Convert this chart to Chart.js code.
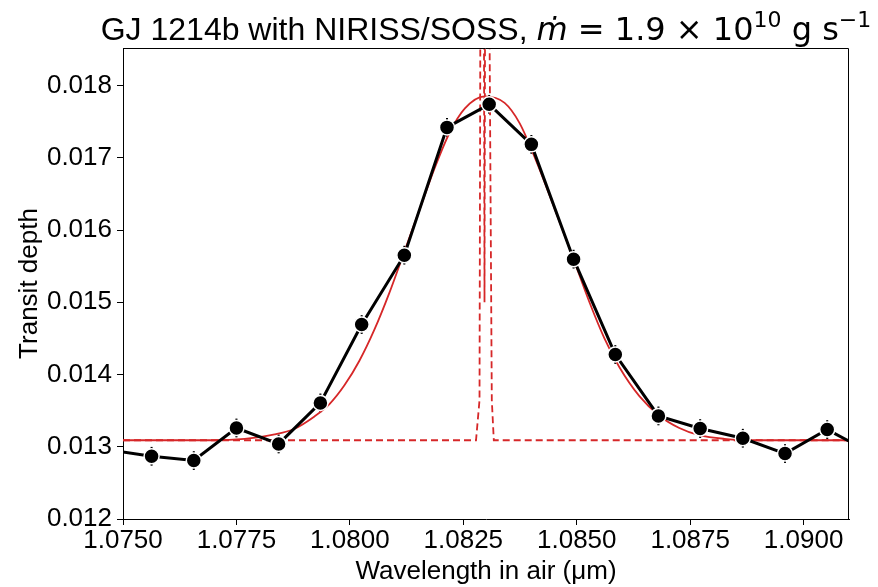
<!DOCTYPE html>
<html>
<head>
<meta charset="utf-8">
<script src="https://cdn.jsdelivr.net/npm/chart.js@4.4.0/dist/chart.umd.min.js"></script>
<style>
  html, body { margin: 0; padding: 0; background: #fff; }
</style>
</head>
<body>
<canvas id="transit-chart" width="878" height="587"></canvas>
<script>
// observed NIRISS/SOSS points (first and last sit just outside the axes)
const obsWave = [1.07469, 1.07563, 1.07656, 1.07750, 1.07843, 1.07935, 1.08026, 1.08120, 1.08214, 1.08307,
  1.08400, 1.08493, 1.08585, 1.08680, 1.08772, 1.08866, 1.08959, 1.09052, 1.09145]
const obsDepth = [0.012956, 0.012868, 0.012809, 0.013260, 0.013039, 0.013607, 0.014692, 0.015652, 0.017421, 0.017740,
  0.017186, 0.015597, 0.014277, 0.013427, 0.013252, 0.013118, 0.012906, 0.013238, 0.012928]
const obsErr = [0.00013, 0.00013, 0.00013, 0.00013, 0.00013, 0.00013, 0.00013, 0.00013, 0.00013, 0.00013,
  0.00013, 0.00013, 0.00013, 0.00013, 0.00013, 0.00013, 0.00013, 0.00013, 0.00013]

// binned model (solid red)
const binWave = [1.0750, 1.07700, 1.07768, 1.07834, 1.07878, 1.07922, 1.07955, 1.07988, 1.08021, 1.08054,
  1.08087, 1.08120, 1.08154, 1.08187, 1.08220, 1.08253, 1.08297, 1.08341, 1.08374, 1.08411,
  1.08451, 1.08491, 1.08528, 1.08561, 1.08594, 1.08638, 1.08682, 1.08726, 1.08770, 1.08825,
  1.08902, 1.0910]
const binDepth = [0.01309, 0.01309, 0.01311, 0.01317, 0.01325, 0.01342, 0.01359, 0.01385, 0.01419, 0.01462,
  0.01513, 0.01570, 0.01629, 0.01686, 0.01735, 0.01768, 0.01785, 0.01776, 0.01748, 0.01695,
  0.01630, 0.01563, 0.01500, 0.01450, 0.01410, 0.01370, 0.01343, 0.01326, 0.01316, 0.01311,
  0.01309, 0.01309]

// high resolution model (dashed red), He triplet shoots off the top
const hiresWave = [1.0750, 1.082780, 1.082857, 1.082879, 1.082952, 1.082967, 1.082982, 1.083066, 1.083128, 1.083172, 1.0910]
const hiresDepth = [0.01309, 0.01309, 0.013644, 0.0200, 0.0200, 0.0150, 0.0200, 0.0200, 0.013644, 0.01309, 0.01309]

const xTicks = [1.0750, 1.0775, 1.0800, 1.0825, 1.0850, 1.0875, 1.0900]
const yTicks = [0.012, 0.013, 0.014, 0.015, 0.016, 0.017, 0.018]

const toPoints = (xs, ys) => xs.map((v, i) => ({ x: v, y: ys[i] }))

const errorBars = {
  id: 'errorBars',
  beforeDatasetsDraw(chart) {
    const { ctx, chartArea, scales: { x, y } } = chart
    ctx.save()
    ctx.beginPath()
    ctx.rect(chartArea.left, chartArea.top, chartArea.width, chartArea.height)
    ctx.clip()
    ctx.strokeStyle = '#000'
    ctx.lineWidth = 2
    obsWave.forEach((w, i) => {
      const px = x.getPixelForValue(w)
      ctx.beginPath()
      ctx.moveTo(px, y.getPixelForValue(obsDepth[i] - obsErr[i]))
      ctx.lineTo(px, y.getPixelForValue(obsDepth[i] + obsErr[i]))
      ctx.stroke()
    })
    ctx.restore()
  }
}

const frame = {
  id: 'frame',
  afterDraw(chart) {
    const { ctx, chartArea: a } = chart
    ctx.save()
    ctx.strokeStyle = '#000'
    ctx.lineWidth = 1
    ctx.beginPath()
    ctx.moveTo(a.left, a.top + 0.5)
    ctx.lineTo(a.right - 0.5, a.top + 0.5)
    ctx.lineTo(a.right - 0.5, a.bottom)
    ctx.stroke()
    ctx.restore()
  }
}

// title with math bits (dot m, superscripts)
const titleParts = [
  { text: 'GJ 1214b with NIRISS/SOSS, ', font: '32px "Liberation Sans"', dy: 0 },
  { text: 'ṁ', font: 'italic 32px "DejaVu Sans"', dy: 0 },
  { text: ' = 1.9 × 10', font: '32px "DejaVu Sans"', dy: 0 },
  { text: '10', font: '22px "DejaVu Sans"', dy: -13 },
  { text: ' g s', font: '32px "DejaVu Sans"', dy: 0 },
  { text: '−1', font: '22px "DejaVu Sans"', dy: -13 }
]

const mathTitle = {
  id: 'mathTitle',
  afterDraw(chart) {
    const { ctx, chartArea: a } = chart
    ctx.save()
    ctx.fillStyle = '#000'
    ctx.textBaseline = 'alphabetic'
    ctx.textAlign = 'left'
    let total = 0
    titleParts.forEach((p) => { ctx.font = p.font; total += ctx.measureText(p.text).width })
    let cx = (a.left + a.right) / 2 - total / 2
    titleParts.forEach((p) => {
      ctx.font = p.font
      ctx.fillText(p.text, cx, 40 + p.dy)
      cx += ctx.measureText(p.text).width
    })
    ctx.restore()
  }
}

const tickFont = { family: '"Liberation Sans", Arial, sans-serif', size: 26 }

new Chart(document.getElementById('transit-chart'), {
  type: 'line',
  data: {
    datasets: [
      {
        label: 'data',
        data: toPoints(obsWave, obsDepth),
        borderColor: '#000',
        borderWidth: 3,
        backgroundColor: '#000',
        pointRadius: 7.5,
        pointBorderColor: '#fff',
        pointBorderWidth: 1.5,
        pointBackgroundColor: '#000',
        tension: 0,
        clip: 0
      },
      {
        label: 'binned model',
        data: toPoints(binWave, binDepth),
        borderColor: '#d62728',
        borderWidth: 1.8,
        pointRadius: 0,
        cubicInterpolationMode: 'monotone',
        clip: 0
      },
      {
        label: 'high-res model',
        data: toPoints(hiresWave, hiresDepth),
        borderColor: '#d62728',
        borderWidth: 1.8,
        borderDash: [7, 4],
        pointRadius: 0,
        tension: 0,
        clip: 0
      }
    ]
  },
  options: {
    responsive: false,
    animation: false,
    devicePixelRatio: 1,
    layout: { padding: { top: 48, right: 29, left: 0, bottom: 0 } },
    plugins: {
      legend: { display: false },
      tooltip: { enabled: false },
      title: { display: false }
    },
    scales: {
      x: {
        type: 'linear',
        min: 1.0750,
        max: 1.0910,
        afterBuildTicks: (scale) => { scale.ticks = xTicks.map((v) => ({ value: v })) },
        afterFit: (scale) => { scale.height = 68 },
        ticks: {
          color: '#000',
          font: tickFont,
          padding: 0,
          maxRotation: 0,
          autoSkip: false,
          callback: (value) => value.toFixed(4)
        },
        grid: { drawOnChartArea: false, drawTicks: true, tickLength: 6, color: '#000' },
        border: { color: '#000', width: 1 },
        title: {
          display: true,
          text: 'Wavelength in air (μm)',
          color: '#000',
          font: { family: '"Liberation Sans", Arial, sans-serif', size: 26, lineHeight: 1 },
          padding: { top: 0, bottom: 2 }
        }
      },
      y: {
        type: 'linear',
        min: 0.012,
        max: 0.01852,
        afterBuildTicks: (scale) => { scale.ticks = yTicks.map((v) => ({ value: v })) },
        afterFit: (scale) => { scale.width = 123 },
        ticks: {
          color: '#000',
          font: tickFont,
          padding: 5,
          autoSkip: false,
          callback: (value) => value.toFixed(3)
        },
        grid: { drawOnChartArea: false, drawTicks: true, tickLength: 6, color: '#000' },
        border: { color: '#000', width: 1 },
        title: {
          display: true,
          text: 'Transit depth',
          color: '#000',
          font: { family: '"Liberation Sans", Arial, sans-serif', size: 26, lineHeight: 1 },
          padding: { top: 17, bottom: 0 }
        }
      }
    }
  },
  plugins: [errorBars, frame, mathTitle]
})
</script>
</body>
</html>
